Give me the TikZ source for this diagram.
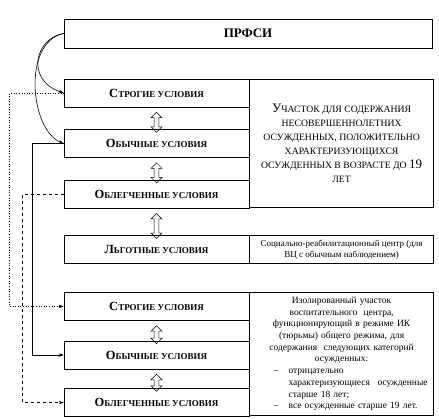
\documentclass[tikz,border=0pt]{standalone}
\usepackage{fontspec}
\setmainfont{Liberation Serif}
\usepackage{tikz}
\usetikzlibrary{shapes,arrows,arrows.meta,positioning}

% first letter large, the rest in small capitals
\newcommand{\bsc}[2]{{\fontsize{12.5}{14}\selectfont #1}{\fontsize{9}{11}\selectfont #2}}
\newcommand{\dsc}[2]{{\fontsize{13}{14}\selectfont #1}{\fontsize{9.7}{14}\selectfont #2}}
% one line of the list
\newcommand{\li}[2]{\makebox[172pt][l]{\hspace*{18pt}\makebox[15pt][l]{#1}#2}}

\begin{document}
\begin{tikzpicture}[x=1pt, y=1pt, node distance=22pt, >={Stealth[length=5pt,width=3.5pt]},
  box/.style={draw, rectangle, line width=0.6pt, minimum width=185pt, minimum height=28pt, inner sep=0pt, font=\bfseries},
  desc/.style={draw, rectangle, line width=0.6pt, minimum width=184pt, inner sep=4pt, align=center, anchor=north west},
  dblarr/.style={draw, double arrow, rotate=90, line width=0.5pt, minimum height=20pt, inner sep=2.2pt, double arrow head extend=3pt, xshift=-4pt}]
\useasboundingbox (0,0) rectangle (439,-419);

\node (prfsi) [box, minimum width=368pt, minimum height=29pt, font=\bfseries\fontsize{13}{15}\selectfont] at (248,-33.5) {ПРФСИ};

% first group
\node (strict1) [box] at (156.5,-93) {\bsc{С}{ТРОГИЕ УСЛОВИЯ}};
\node (usual1) [box, below=of strict1] {\bsc{О}{БЫЧНЫЕ УСЛОВИЯ}};
\node (light1) [box, below=of usual1] {\bsc{О}{БЛЕГЧЕННЫЕ УСЛОВИЯ}};
\node (juv) [desc, minimum height=128pt, font=\fontsize{9.7}{14}\selectfont] at (strict1.north east) {\dsc{У}{ЧАСТОК ДЛЯ СОДЕРЖАНИЯ}\\ \dsc{}{НЕСОВЕРШЕННОЛЕТНИХ}\\ \dsc{}{ОСУЖДЕННЫХ, ПОЛОЖИТЕЛЬНО}\\ \dsc{}{ХАРАКТЕРИЗУЮЩИХСЯ}\\ \dsc{}{ОСУЖДЕННЫХ В ВОЗРАСТЕ ДО }{\fontsize{13}{14}\selectfont 19}\\ \dsc{}{ЛЕТ}};

% preferential
\node (pref) [box, below=27pt of light1] {\bsc{Л}{ЬГОТНЫЕ УСЛОВИЯ}};
\node (rehab) [desc, minimum height=28pt, font=\fontsize{9}{11}\selectfont] at (pref.north east) {Социально-реабилитационный центр (для\\ ВЦ с обычным наблюдением)};

% second group
\node (strict2) [box, below=28pt of pref] {\bsc{С}{ТРОГИЕ УСЛОВИЯ}};
\node (usual2) [box, below=20pt of strict2] {\bsc{О}{БЫЧНЫЕ УСЛОВИЯ}};
\node (light2) [box, below=19pt of usual2] {\bsc{О}{БЛЕГЧЕННЫЕ УСЛОВИЯ}};
\node (isol) [desc, minimum height=123pt, text width=176pt, font=\fontsize{9.5}{11.7}\selectfont] at (strict2.north east) {Изолированный участок\\ воспитательного\ \ центра,\\ функционирующий в режиме ИК\\ (тюрьмы) общего режима, для\\ содержания\ \ следующих категорий\\ осужденных:\\
\li{--}{отрицательно}\\
\li{}{\makebox[139pt][s]{характеризующиеся\hfill осужденные}}\\
\li{}{старше 18 лет;}\\
\li{--}{все осужденные старше 19 лет.}};

% double arrows
\path (strict1.south) -- (usual1.north) node[midway, dblarr] {};
\path (usual1.south) -- (light1.north) node[midway, dblarr] {};
\path (light1.south) -- (pref.north) node[midway, dblarr, minimum height=25pt] {};
\path (strict2.south) -- (usual2.north) node[midway, dblarr, minimum height=18pt] {};
\path (usual2.south) -- (light2.north) node[midway, dblarr, minimum height=17pt] {};

% connectors
\draw[->, line width=0.6pt] (prfsi.west) .. controls (35,-38) and (25,-80) .. (strict1.west);
\draw[->, line width=0.6pt] (prfsi.west) .. controls (22,-42) and (30,-130) .. (usual1.west);
\draw[->, dotted, line width=0.6pt] (strict1.west) -- ++(-54,0) |- (strict2.west);
\draw[->, line width=0.6pt] (usual1.west) -- ++(-31,0) |- (usual2.west);
\draw[->, dashed, line width=0.6pt] (light1.west) -- ++(-41,0) |- (light2.west);
\end{tikzpicture}
\end{document}
